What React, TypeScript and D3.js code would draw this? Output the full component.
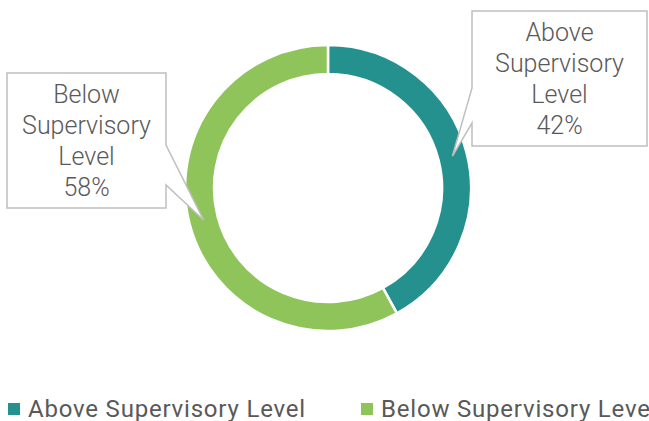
import { useMemo } from "react";
import * as d3 from "d3";

const WIDTH = 649;
const HEIGHT = 421;
const CENTER = { x: 328, y: 188 };
const OUTER_R = 143;
const INNER_R = 114;
const FONT = "Roboto, 'Noto Sans', sans-serif";
const TEXT_COLOR = "#595959";

const categories = ["Above Supervisory Level", "Below Supervisory Level"];
const values = [42, 58];
const colors = ["#25918F", "#8FC45A"];
const labelLines = [
  ["Above", "Supervisory", "Level", "42%"],
  ["Below", "Supervisory", "Level", "58%"],
];

// callout boxes (x, y, w, h) and where the pointer leaves the box
const callouts = [
  { x: 472, y: 11, w: 175, h: 135, side: "left", p0: 77, p1: 112 },
  { x: 7, y: 73, w: 159, h: 135, side: "right", p0: 72, p1: 112 },
];

type Datum = { name: string; value: number; color: string; lines: string[] };

function calloutPath(c: (typeof callouts)[number], tip: [number, number]) {
  const { x, y, w, h } = c;
  if (c.side === "left") {
    return `M${x},${y}H${x + w}V${y + h}H${x}V${y + c.p1}L${tip[0]},${tip[1]}L${x},${y + c.p0}Z`;
  }
  return `M${x},${y}H${x + w}V${y + c.p0}L${tip[0]},${tip[1]}L${x + w},${y + c.p1}V${y + h}H${x}Z`;
}

export default function App() {
  const data: Datum[] = categories.map((name, i) => ({
    name,
    value: values[i],
    color: colors[i],
    lines: labelLines[i],
  }));

  const arcs = useMemo(
    () =>
      d3
        .pie<Datum>()
        .sort(null)
        .value((d) => d.value)(data),
    []
  );

  const arc = d3.arc<d3.PieArcDatum<Datum>>().innerRadius(INNER_R).outerRadius(OUTER_R);

  const legendX = [8, 361];

  return (
    <svg
      width={WIDTH}
      height={HEIGHT}
      style={{ position: "fixed", left: 0, top: 0, background: "#fff" }}
      fontFamily={FONT}
    >
      <g transform={`translate(${CENTER.x},${CENTER.y})`}>
        {arcs.map((a) => (
          <path key={a.data.name} d={arc(a) ?? ""} fill={a.data.color} stroke="#fff" strokeWidth={2.5} />
        ))}
      </g>

      {arcs.map((a, i) => {
        const c = arc.centroid(a);
        const tip: [number, number] = [c[0] + CENTER.x, c[1] + CENTER.y];
        const box = callouts[i];
        const cx = box.x + box.w / 2;
        return (
          <g key={`callout-${a.data.name}`}>
            <path d={calloutPath(box, tip)} fill="#fff" stroke="#BFBFBF" strokeWidth={1.5} />
            {a.data.lines.map((line, j) => (
              <text
                key={j}
                x={cx}
                y={box.y + 30 + j * 31}
                textAnchor="middle"
                fontSize={25}
                fontWeight={300}
                fill={TEXT_COLOR}
              >
                {line}
              </text>
            ))}
          </g>
        );
      })}

      {data.map((d, i) => (
        <g key={`legend-${d.name}`} transform={`translate(${legendX[i]},403)`}>
          <rect width={12} height={12} fill={d.color} />
          <text x={20} y={14} fontSize={24} letterSpacing={0.8} fill={TEXT_COLOR}>
            {d.name}
          </text>
        </g>
      ))}
    </svg>
  );
}
